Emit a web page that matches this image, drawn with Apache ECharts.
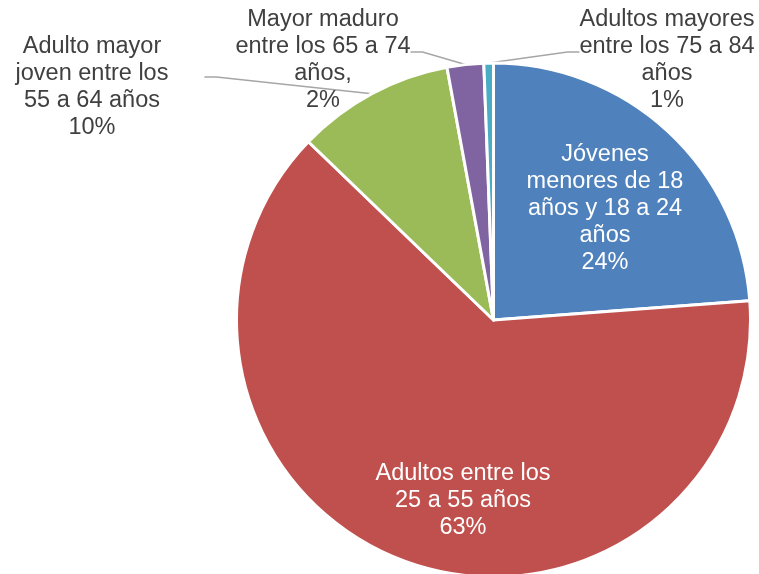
<!DOCTYPE html>
<html>
<head>
<meta charset="utf-8">
<title>Distribución por edad</title>
<script src="https://cdn.jsdelivr.net/npm/echarts@6/dist/echarts.min.js"></script>
<style>
  html, body { margin: 0; padding: 0; background: #fff; }
  #chart { width: 759px; height: 574px; }
</style>
</head>
<body>
<div id="chart"></div>
<script>
// grupos de edad (en el orden de las porciones, desde las 12 en sentido horario)
const categories = [
  'Jóvenes\nmenores de 18\naños y 18 a 24\naños',
  'Adultos entre los\n25 a 55 años',
  'Adulto mayor\njoven entre los\n55 a 64 años',
  'Mayor maduro\nentre los 65 a 74\naños,',
  'Adultos mayores\nentre los 75 a 84\naños'
]
// porcentaje de cada grupo (estimado del gráfico)
const values = [23.8, 63.4, 9.9, 2.3, 0.6]
const colors = ['#4F81BD', '#C0504D', '#9BBB59', '#8064A2', '#4BACC6']
const insideLabel = [true, true, false, false, false]

// centro del texto de cada etiqueta en px
const labelPos = [
  [605, 209],
  [463, 501],
  [92, 87],
  [323, 60],
  [667, 60]
]
// hueco a la derecha: aleja el inicio de la guía
// línea vacía arriba: sube el punto donde se engancha la guía
const labelGapRight = [0, 0, 36, 0, 0]
const labelGapTop = [0, 0, 20, 16, 16]

const pct = v => Math.round(v) + '%'

const chart = echarts.init(document.getElementById('chart'))

const option = {
  animation: false,
  textStyle: { fontFamily: '"Liberation Sans", Arial, sans-serif' },
  series: [
    {
      type: 'pie',
      center: [493.5, 320],
      radius: 257,
      startAngle: 90,
      clockwise: true,
      avoidLabelOverlap: false,
      itemStyle: { borderColor: '#fff', borderWidth: 3 },
      label: {
        fontSize: 23.5,
        lineHeight: 27,
        align: 'center',
        color: '#404040',
        formatter: p => p.name + '\n' + pct(p.value)
      },
      labelLine: {
        show: true,
        length: 10,
        length2: 12,
        lineStyle: { color: '#A6A6A6', width: 1.5 }
      },
      labelLayout: p => ({
        x: labelPos[p.dataIndex][0] + labelGapRight[p.dataIndex] / 2,
        y: labelPos[p.dataIndex][1] - labelGapTop[p.dataIndex] / 2,
        align: 'center',
        verticalAlign: 'middle'
      }),
      emphasis: { disabled: true },
      data: categories.map((name, i) => ({
        name: name,
        value: values[i],
        itemStyle: { color: colors[i] },
        label: insideLabel[i]
          ? { position: 'inside', color: '#fff' }
          : {
              position: 'outside',
              backgroundColor: 'rgba(255,255,255,0)',
              padding: [0, labelGapRight[i], 0, 0],
              formatter: p => '{gap| }\n' + p.name + '\n' + pct(p.value),
              rich: { gap: { fontSize: 1, lineHeight: labelGapTop[i] } }
            },
        labelLine: { show: !insideLabel[i] }
      }))
    }
  ]
}

chart.setOption(option)
</script>
</body>
</html>
